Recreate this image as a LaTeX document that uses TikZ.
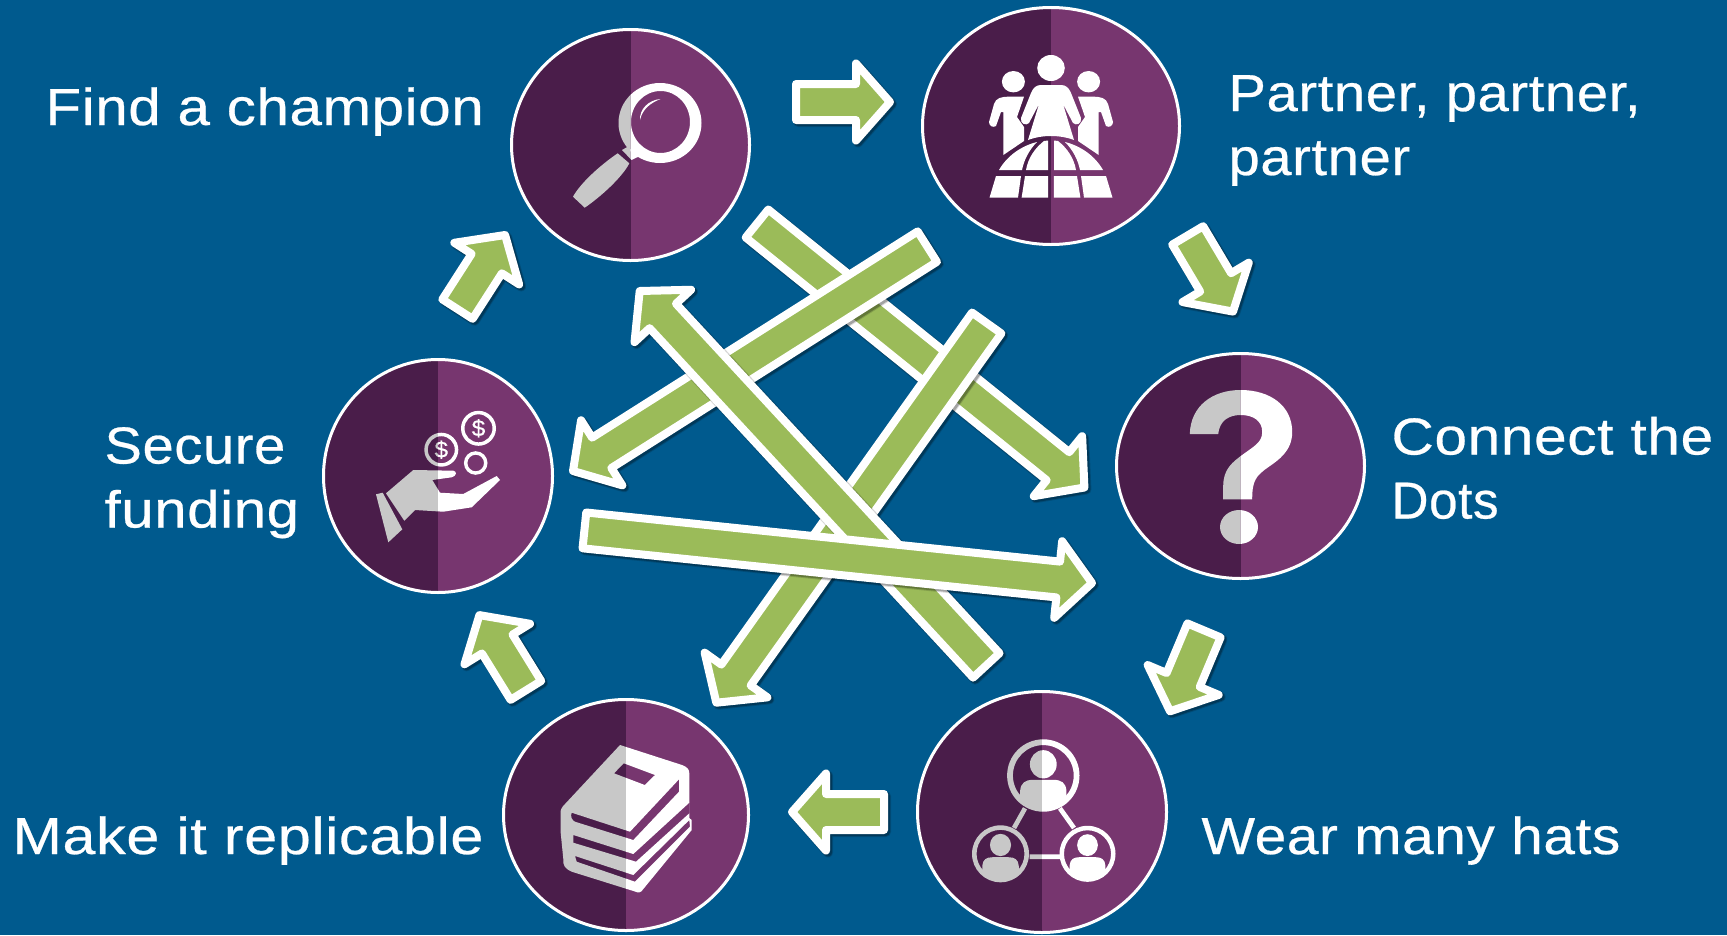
\documentclass[tikz,border=0pt]{standalone}
\usepackage{graphicx}
\usepackage{fontspec}
\setmainfont[FakeStretch=1.08,LetterSpace=1.2,FakeBold=0.5]{Liberation Sans}
\usetikzlibrary{shapes.geometric,calc}

\definecolor{bgblue}{RGB}{0,90,142}
\definecolor{darkplum}{RGB}{74,29,74}
\definecolor{lightplum}{RGB}{119,54,111}
\definecolor{leaf}{RGB}{155,187,89}
\definecolor{icongray}{RGB}{200,200,200}

\tikzset{every picture/.style={line width=0.75pt},
  hub/.style={ellipse,draw=white,line width=2.25pt,fill=lightplum,inner sep=0pt,
    path picture={\fill[darkplum] (path picture bounding box.south west) rectangle (path picture bounding box.north);}},
  lbl/.style={text=white,font=\fontsize{39}{48}\selectfont,align=left,inner sep=0pt,transform shape,yscale=-1,xscale=#1},
  blockarrow/.style={draw=white,fill=leaf,line width=6pt,line join=round,
    preaction={draw=black,fill=none,line join=round,opacity=.15,line width=7.5pt,transform canvas={shift={(1.5pt,-1.5pt)}}},
    preaction={draw=black,fill=none,line join=round,opacity=.25,line width=6pt,transform canvas={shift={(1.5pt,-1.5pt)}}}},
  ico/.style={fill=iconcol,even odd rule}}

% block arrow between two named coordinates
\newcommand{\blockarrow}[2]{%
  \coordinate (neck) at ($(#2)!25.5pt!(#1)$);
  \draw[blockarrow] ($(#1)!13.5pt!90:(#2)$) -- ($(neck)!13.5pt!90:(#2)$) -- ($(neck)!28.9pt!90:(#2)$) -- (#2)
    -- ($(neck)!28.9pt!-90:(#2)$) -- ($(neck)!13.5pt!-90:(#2)$) -- ($(#1)!13.5pt!-90:(#2)$) -- cycle;
}
% icon grey left of the hub's split, white right of it
\newcommand{\halficon}[2]{%
  \begin{scope}[shift={(#1.center)}]
    \begin{scope}\clip (-150,-150) rectangle (0,150); \colorlet{iconcol}{icongray} #2 \end{scope}
    \begin{scope}\clip (0,-150) rectangle (150,150); \colorlet{iconcol}{white} #2 \end{scope}
  \end{scope}
}
% one person in a ring, unit radius
\newcommand{\ringperson}[3]{%
  \begin{scope}[shift={(#1,#2)},scale=#3]
    \path[ico] (0,0) circle (1) (0,0) circle (0.84);
    \path[ico] (0,-.31) ellipse (.37 and .39);
    \path[ico] (-.64,.42) .. controls (-.62,.2) and (-.5,.12) .. (-.28,.12) -- (.28,.12) .. controls (.5,.12) and (.62,.2) .. (.64,.42)
      -- (.64,.66) .. controls (.3,.93) and (-.3,.93) .. (-.64,.66) -- cycle;
  \end{scope}
}
% half of the crowd on the globe
\newcommand{\crowdside}{%
  \fill[white] (-42,-29.3) -- (-27,-29.3) -- (-34,-9) -- (-27,1) -- (-27,15) -- (-47.7,29) -- (-47.7,-14) -- (-50,-14) -- (-55,0) .. controls (-58,2) and (-62,0) .. (-62,-4)
    -- (-57,-22) .. controls (-55,-28) and (-50,-29.3) .. (-42,-29.3) -- cycle;
  \fill[white] (0,-41) -- (-10,-41) .. controls (-15,-41) and (-18,-38) .. (-20,-33) -- (-30,-8) .. controls (-31,-2) and (-25,0) .. (-22,-3) -- (-12,-22) -- (-23,14) .. controls (-15,11) and (-7,10) .. (0,10) -- cycle;
  \fill[white] (-52,44) .. controls (-44,30) and (-30,20) .. (-14,16) .. controls (-22,24) and (-27,34) .. (-29,44) -- cycle;
  \fill[white] (-25,44) .. controls (-23,32) and (-16,22) .. (-7,15) -- (-3,14.5) -- (-3,44) -- cycle;
  \fill[white] (-61.5,71.7) -- (-33,71.7) -- (-30,50) -- (-55,50) -- cycle;
  \fill[white] (-29.4,71.7) -- (-2.8,71.7) -- (-2.8,50) -- (-26,50) -- cycle;
}

\begin{document}
\begin{tikzpicture}[x=0.75pt,y=0.75pt,yscale=-1,xscale=1]
\fill[bgblue] (0,0) rectangle (1727,935);
\useasboundingbox (0,0) rectangle (1727,935);

%Hubs
\node[hub,minimum width=178.5pt,minimum height=173.25pt] (champion) at (630.5,145) {};
\node[hub,minimum width=192.75pt,minimum height=177.75pt] (partner) at (1051,126) {};
\node[hub,minimum width=186pt,minimum height=168.75pt] (dots) at (1240.5,466) {};
\node[hub,minimum width=186.75pt,minimum height=180.75pt] (hats) at (1042,812) {};
\node[hub,minimum width=183.75pt,minimum height=173.25pt] (replicable) at (626,815) {};
\node[hub,minimum width=171.75pt,minimum height=174.75pt] (funding) at (438,476) {};

%Magnifier
\halficon{champion}{
  \path[ico] (29.5,-22) ellipse (41.5 and 40) (30,-23) ellipse (29.5 and 31);
  \path[ico] (-12.8,8.3) .. controls (-30,20) and (-50,38) .. (-57.5,51.7) -- (-45.8,62.7) .. controls (-30,52) and (-8,32) .. (-1.2,18.3) -- cycle;
  \path[ico] (-8.5,5) -- (-2.7,1.7) -- (7.9,11.7) -- (1,15) -- cycle;
  \path[ico] (9.5,-25) .. controls (9,-36) and (18,-45) .. (30,-46) .. controls (20,-42) and (12,-36) .. (9.5,-25) -- cycle;
}
%Crowd on the globe
\begin{scope}[shift={(partner.center)}]
  \fill[white] (0,-58) ellipse (13.8 and 13);
  \fill[white] (-37.6,-44.3) ellipse (11.5 and 10.7) (37.6,-44.3) ellipse (11.5 and 10.7);
  \crowdside
  \begin{scope}[xscale=-1] \crowdside \end{scope}
\end{scope}
%Question mark
\halficon{dots}{
  \path[ico] (-50.7,-32) .. controls (-50,-60) and (-28,-76) .. (0,-76) .. controls (30,-76) and (51.7,-60) .. (51.7,-34) .. controls (51.7,-15) and (38,-6) .. (28,1)
    .. controls (15,10) and (11.7,15) .. (11.7,33.3) -- (-17.3,33.3) -- (-17.3,20) .. controls (-17.3,3) and (-8,-4) .. (3,-12) .. controls (14,-20) and (21.7,-24) .. (21.7,-34)
    .. controls (21.7,-45) and (13,-51) .. (0,-51) .. controls (-12,-51) and (-21,-45) .. (-22.3,-32) -- cycle;
  \path[ico] (-1.5,61) ellipse (19 and 17);
}
%Network of people
\halficon{hats}{
  \ringperson{1.3}{-36.5}{36.2}
  \ringperson{-41.5}{41.8}{28.5}
  \ringperson{45.5}{41.8}{28}
  \draw[iconcol,line width=3.5pt] (-17,-3.7) -- (-28,16) (17.9,-3.7) -- (32,16) (-12.5,44.7) -- (17.9,44.7);
}
%Stack of books
\halficon{replicable}{
  \path[ico] (-6,-70) -- (56,-50) .. controls (61,-48) and (63.3,-46) .. (63.3,-41.7) -- (63.3,3) -- (65.7,5) -- (65.7,15) -- (17.3,74) .. controls (15,78) and (12,78) .. (9,76.5)
    -- (-54.3,56.7) .. controls (-62,53) and (-63,50) .. (-62.7,44) -- (-65.3,18) -- (-65.3,-1.7) .. controls (-66,-5) and (-64,-8) .. (-61,-11) -- cycle
    (-12,-41.7) -- (-2.2,-51.7) -- (29,-40) -- (18.8,-30) -- cycle
    (-54.3,-2.3) -- (4,16.7) -- (53,-35.7) -- (53,-23.3) -- (7.3,25) -- (-51,6.7) .. controls (-54,5.5) and (-56,1) .. (-54.3,-2.3) -- cycle
    (-52.7,20) -- (7.3,39) -- (63.3,-12.3) -- (63.3,-1.7) -- (10,46.7) -- (-52.7,27.7) -- cycle
    (-51,41) -- (7.3,60) -- (63.3,5) -- (64,11.7) -- (9,66.7) -- (-49.3,46.7) -- cycle;
}
%Hand with coins
\halficon{funding}{
  \path[ico] (-62,18.3) -- (-55.3,16.7) -- (-35.7,53.3) -- (-49.7,66.3) -- cycle;
  \path[ico] (-52,17.3) -- (-24.7,-6) -- (15.3,-5.3) .. controls (19,-5) and (19,0) .. (13.7,1.3) -- (-5.7,4) -- (2,16.7) -- (25.3,18) -- (58.7,0) -- (62,4) -- (33.7,31.3) -- (5.3,35.7) -- (-23,34) -- (-33.7,44.7) -- cycle;
  \path[ico] (3.3,-26.3) circle (17) (3.3,-26.3) circle (13.5);
  \path[ico] (40.5,-47.7) circle (17.5) (40.5,-47.7) circle (14);
  \path[ico] (37.7,-13) circle (11.8) (37.7,-13) circle (8.3);
  \node[text=iconcol,font=\fontsize{17}{17}\selectfont,inner sep=0pt] (coinA) at (3.3,-26.3) {\$};
  \node[text=iconcol,font=\fontsize{17}{17}\selectfont,inner sep=0pt] (coinB) at (40.5,-47.7) {\$};
}

%Ring arrows
\coordinate (a1s) at (796,102); \coordinate (a1e) at (890,102);
\coordinate (a2s) at (1187.7,235.4); \coordinate (a2e) at (1233,311.6);
\coordinate (a3s) at (1204,630.4); \coordinate (a3e) at (1170,711.3);
\coordinate (a4s) at (884,812); \coordinate (a4e) at (792,812);
\coordinate (a5s) at (525.9,690.4); \coordinate (a5e) at (479.4,615.1);
\coordinate (a6s) at (457.5,309.1); \coordinate (a6e) at (505.1,235);
\blockarrow{a1s}{a1e}
\blockarrow{a2s}{a2e}
\blockarrow{a3s}{a3e}
\blockarrow{a4s}{a4e}
\blockarrow{a5s}{a5e}
\blockarrow{a6s}{a6e}

%Crossing arrows
\coordinate (b1s) at (757,223.5); \coordinate (b1e) at (1084.4,487.5);
\coordinate (b2s) at (927.3,246.6); \coordinate (b2e) at (573,471);
\coordinate (b3s) at (986.7,323); \coordinate (b3e) at (716.3,702.7);
\coordinate (b4s) at (986.3,665.4); \coordinate (b4e) at (639.7,291);
\coordinate (b5s) at (584.4,530.4); \coordinate (b5e) at (1092,583);
\blockarrow{b1s}{b1e}
\blockarrow{b2s}{b2e}
\blockarrow{b3s}{b3e}
\blockarrow{b4s}{b4e}
\blockarrow{b5s}{b5e}

%Labels
\node[lbl=1.037,anchor=base west] (findlbl) at (45,125) {Find a champion};
\node[lbl=1,anchor=base west] (partnerlbl) at (1228,175) {Partner, partner,\\partner};
\node[lbl=1.043,anchor=base west] (dotslbl) at (1391,518.5) {Connect the\\\scalebox{.875}[1]{Dots}};
\node[lbl=1.035,anchor=base west] (fundlbl) at (104,527.5) {\scalebox{.965}[1]{Secure}\\funding};
\node[lbl=1.055,anchor=base west] (makelbl) at (12,854) {Make it replicable};
\node[lbl=1.01,anchor=base west] (hatslbl) at (1201,854) {Wear many hats};

\end{tikzpicture}
\end{document}
